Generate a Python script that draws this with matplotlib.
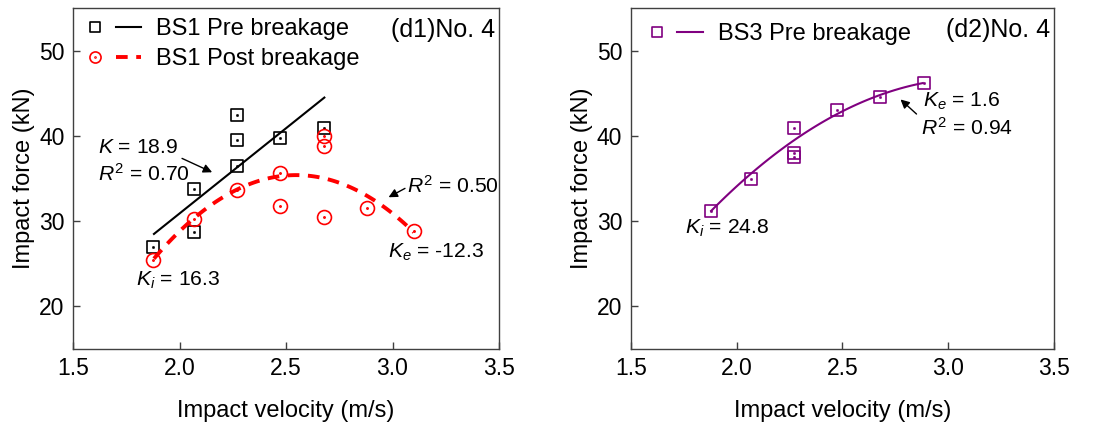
import numpy as np
import matplotlib
matplotlib.use("Agg")
import matplotlib.pyplot as plt
from matplotlib.path import Path
from matplotlib.transforms import Affine2D
from matplotlib.legend_handler import HandlerTuple

plt.rcParams["font.family"] = "Liberation Sans"
plt.rcParams["mathtext.fontset"] = "custom"
plt.rcParams["mathtext.rm"] = "Liberation Sans"
plt.rcParams["mathtext.it"] = "Liberation Sans:italic"

# (d1) BS1 data
pre1_v = [1.875, 2.07, 2.07, 2.27, 2.27, 2.27, 2.47, 2.68]
pre1_f = [27.0, 33.8, 28.75, 42.4, 39.5, 36.5, 39.7, 40.9]
post1_v = [1.875, 2.07, 2.27, 2.47, 2.47, 2.68, 2.68, 2.68, 2.88, 3.10]
post1_f = [25.5, 30.2, 33.6, 35.7, 31.8, 40.0, 38.8, 30.5, 31.6, 28.8]
# fit lines
lin1_v = [1.88, 2.68]
lin1_f = [28.5, 44.5]
quad1_v = [1.88, 2.56, 3.10]
quad1_f = [25.6, 35.4, 28.7]

# (d2) BS3 data
pre3_v = [1.878, 2.07, 2.27, 2.27, 2.27, 2.473, 2.678, 2.886]
pre3_f = [31.2, 34.9, 40.9, 38.0, 37.5, 43.1, 44.6, 46.2]
quad3_v = [1.88, 2.47, 2.88]
quad3_f = [31.2, 42.5, 46.2]

# markers with a centre dot
sq = Path.unit_rectangle().transformed(Affine2D().translate(-0.5, -0.5))
dot_sq = Path.unit_rectangle().transformed(Affine2D().translate(-0.5, -0.5).scale(0.08))
box_dot = Path.make_compound_path(sq, dot_sq)
dot_c = Path.unit_circle().transformed(Affine2D().scale(0.09))
circ_dot = Path.make_compound_path(Path.unit_circle(), dot_c)

purple = "#800080"
fs_ann = 15.2

fig = plt.figure(figsize=(11.03, 4.25), dpi=100)
ax1 = fig.add_axes([0.0662, 0.1788, 0.3862, 0.8022])
ax2 = fig.add_axes([0.5718, 0.1788, 0.3838, 0.8022])

leg_kw = dict(handler_map={tuple: HandlerTuple(ndivide=None, pad=0.3)},
              loc="upper left", frameon=False, fontsize=17, handlelength=2.5,
              handletextpad=0.6, borderaxespad=0.0, borderpad=0.4,
              labelspacing=0.35, markerscale=0.8)

# ---- left panel
m1, = ax1.plot(pre1_v, pre1_f, ls="none", marker=box_dot, ms=9, mfc="none", mec="black", mew=1.2)
l1, = ax1.plot(lin1_v, lin1_f, color="black", lw=1.5)
m2, = ax1.plot(post1_v, post1_f, ls="none", marker=circ_dot, ms=10, mfc="none", mec="red", mew=1.2)
c1 = np.polyfit(quad1_v, quad1_f, 2)
xs = np.linspace(quad1_v[0], quad1_v[-1], 100)
l2, = ax1.plot(xs, np.polyval(c1, xs), color="red", lw=2.8, ls=(0, (3, 2.2)))

ax1.legend([(m1, l1), (m2, l2)], ["BS1 Pre breakage", "BS1 Post breakage"],
           bbox_to_anchor=(0.0, 0.998), **leg_kw)
ax1.text(0.99, 0.97, "(d1)No. 4", transform=ax1.transAxes, ha="right", va="top", fontsize=18)

ax1.text(1.615, 38.6, r"$K$ = 18.9", fontsize=fs_ann, va="center")
ax1.text(1.615, 35.6, r"$R^2$ = 0.70", fontsize=fs_ann, va="center")
ax1.annotate("", xy=(2.165, 35.6), xytext=(2.0, 37.5),
             arrowprops=dict(arrowstyle="-|>", color="black", lw=1, mutation_scale=13))
ax1.text(1.795, 23.1, r"$K_i$ = 16.3", fontsize=fs_ann, va="center")
ax1.text(2.98, 26.3, r"$K_e$ = -12.3", fontsize=fs_ann, va="center")
ax1.text(3.07, 34.1, r"$R^2$ = 0.50", fontsize=fs_ann, va="center")
ax1.annotate("", xy=(2.97, 32.65), xytext=(3.07, 34.0),
             arrowprops=dict(arrowstyle="-|>", color="black", lw=1, mutation_scale=13))

# ---- right panel
m3, = ax2.plot(pre3_v, pre3_f, ls="none", marker=box_dot, ms=9, mfc="none", mec=purple, mew=1.2)
c3 = np.polyfit(quad3_v, quad3_f, 2)
xs3 = np.linspace(quad3_v[0], quad3_v[-1], 100)
l3, = ax2.plot(xs3, np.polyval(c3, xs3), color=purple, lw=1.5)
ax2.legend([(m3, l3)], ["BS3 Pre breakage"], bbox_to_anchor=(0.01, 0.983), **leg_kw)
ax2.text(0.99, 0.97, "(d2)No. 4", transform=ax2.transAxes, ha="right", va="top", fontsize=18)
ax2.text(1.757, 29.2, r"$K_i$ = 24.8", fontsize=fs_ann, va="center")
ax2.text(2.88, 44.0, r"$K_e$ = 1.6", fontsize=fs_ann, va="center")
ax2.text(2.87, 41.0, r"$R^2$ = 0.94", fontsize=fs_ann, va="center")
ax2.annotate("", xy=(2.765, 44.5), xytext=(2.86, 42.35),
             arrowprops=dict(arrowstyle="-|>", color="black", lw=1, mutation_scale=13))

for ax in (ax1, ax2):
    ax.set_xlim(1.5, 3.5)
    ax.set_ylim(15, 55)
    ax.set_xticks([1.5, 2.0, 2.5, 3.0, 3.5])
    ax.set_yticks([20, 30, 40, 50])
    ax.tick_params(direction="in", labelsize=16.5, length=5, width=1, pad=6,
                   color="#404040")
    ax.set_xlabel("Impact velocity (m/s)", fontsize=17, labelpad=14)
    ax.set_ylabel("Impact force (kN)", fontsize=17, labelpad=3)
    for s in ax.spines.values():
        s.set_linewidth(1)
        s.set_color("#404040")

fig.savefig("out.png", dpi=100)
